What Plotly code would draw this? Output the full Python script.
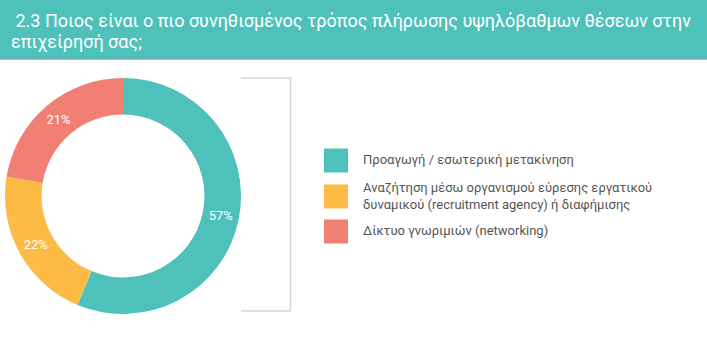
import plotly.graph_objects as go

title_lines = ["\u00a02.3 Ποιος είναι ο πιο συνηθισμένος τρόπος πλήρωσης υψηλόβαθμων θέσεων στην",
               "επιχείρησή σας;"]
labels = ["Προαγωγή / εσωτερική μετακίνηση",
          "Αναζήτηση μέσω οργανισμού εύρεσης εργατικού<br>δυναμικού (recruitment agency) ή διαφήμισης",
          "Δίκτυο γνωριμιών (networking)"]
# slice sizes as drawn, and the percentage labels printed on them
values = [56.3, 21.3, 22.4]
pct_labels = ["57%", "22%", "21%"]
colors = ["#4fc1bb", "#fbbb45", "#f17f73"]

W, H = 707, 348

def py(pix):
    return 1 - pix / H

def px(pix):
    return pix / W

fig = go.Figure()
cx, cy, r = 123, 196, 118
fig.add_trace(go.Pie(
    labels=[l.replace("<br>", " ") for l in labels], values=values, sort=False,
    direction="clockwise", rotation=0, hole=0.69,
    marker=dict(colors=colors, line=dict(width=0)),
    text=pct_labels, texttemplate="%{text}", textposition="inside",
    insidetextorientation="horizontal",
    textfont=dict(color="white", size=13, family="Roboto"),
    domain=dict(x=[px(cx - r), px(cx + r)], y=[py(cy + r), py(cy - r)]),
    showlegend=False, hoverinfo="label+text",
))

shapes = []
# title banner
shapes.append(dict(type="rect", xref="paper", yref="paper", x0=0, x1=1, y0=py(59), y1=1,
                   fillcolor="#4fc1bb", line=dict(width=0), layer="below"))
shapes.append(dict(type="line", xref="paper", yref="paper", x0=0, x1=1, y0=py(59), y1=py(59),
                   line=dict(color="#72b3b3", width=1.5)))
# bracket
shapes.append(dict(type="path", xref="paper", yref="paper",
                   path=f"M {px(241)} {py(78)} L {px(290.5)} {py(78)} L {px(290.5)} {py(311)} L {px(241)} {py(311)}",
                   line=dict(color="#d6d6d6", width=1.5)))

annotations = []
for line, yc in zip(title_lines, [21, 41]):
    annotations.append(dict(text=line, xref="paper", yref="paper",
                            x=px(9), y=py(yc), xanchor="left", yanchor="middle", align="left",
                            showarrow=False, font=dict(family="Roboto", size=18, color="white")))

leg_centers = [160.5, 196.5, 231.5]
for lab, col, yc in zip(labels, colors, leg_centers):
    shapes.append(dict(type="rect", xref="paper", yref="paper",
                       x0=px(324), x1=px(348), y0=py(yc + 12), y1=py(yc - 12),
                       fillcolor=col, line=dict(width=0)))
    annotations.append(dict(text=lab, xref="paper", yref="paper", x=px(361), y=py(yc - 1),
                            xanchor="left", yanchor="middle", align="left", showarrow=False,
                            font=dict(family="Roboto", size=13, color="#555555")))

fig.update_layout(width=W, height=H, margin=dict(l=0, r=0, t=0, b=0),
                  paper_bgcolor="white", plot_bgcolor="white",
                  shapes=shapes, annotations=annotations, showlegend=False)
fig.write_html("out.html")
